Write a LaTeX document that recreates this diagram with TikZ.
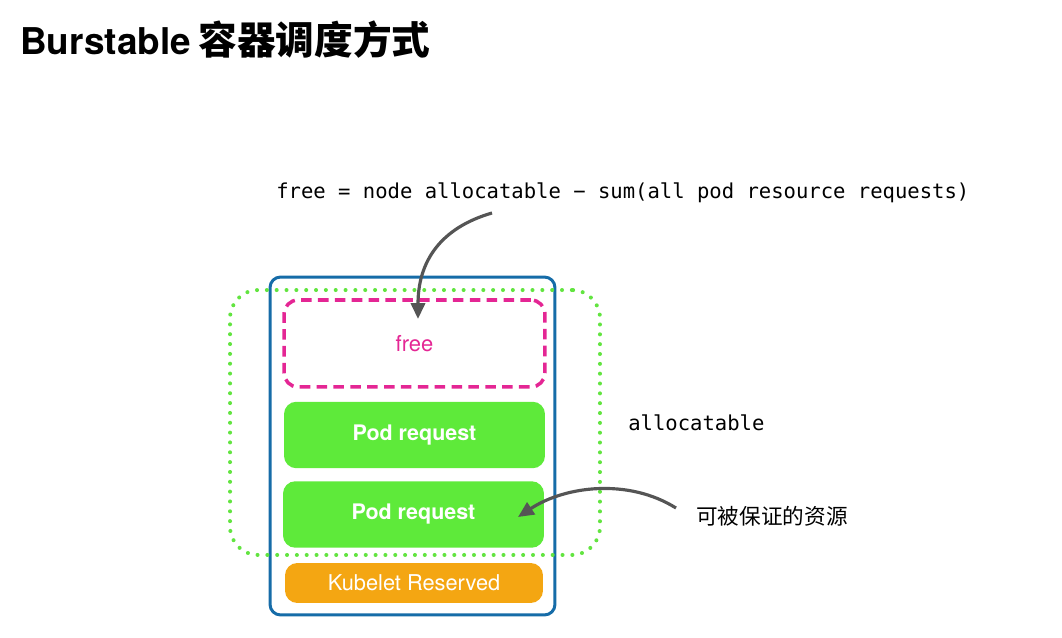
\documentclass[tikz,border=0pt]{standalone}
\usepackage{fontspec}
\setmainfont{TeX Gyre Heros}
\setmonofont{DejaVu Sans Mono}
\newfontfamily\cjk{Noto Sans CJK SC}
\usepackage{tikz}
\usetikzlibrary{arrows.meta,positioning}
\definecolor{boxblue}{RGB}{22,108,168}
\definecolor{podgreen}{RGB}{94,234,58}
\definecolor{dotgreen}{RGB}{98,228,64}
\definecolor{freepink}{RGB}{228,38,148}
\definecolor{kubeorange}{RGB}{244,166,18}
\definecolor{arrowgray}{RGB}{85,85,85}

\begin{document}
\begin{tikzpicture}[x=0.02cm,y=-0.02cm,
  podbox/.style={fill=podgreen,rounded corners=7pt,minimum width=5.22cm,
    minimum height=1.33cm,text=white,font=\fontsize{12.2}{14}\selectfont\bfseries},
  curvearrow/.style={-{Triangle[length=9pt,width=8pt]},line width=1.8pt,arrowgray},
  monolabel/.style={font=\fontsize{11.7}{14}\selectfont\ttfamily,inner sep=0pt}]
  \useasboundingbox (0,0) rectangle (1062,638);

  % --- title ------------------------------------------------------------
  \node[anchor=base west,inner sep=0pt,font=\fontsize{22}{26}\selectfont\bfseries]
    (title) at (20,55) {{\fontsize{21}{26}\selectfont Burstable}\hspace{0.2em}{\cjk 容器调度方式}};

  % --- formula ----------------------------------------------------------
  \node[monolabel,anchor=west] (formula) at (276,193)
    {free = node allocatable − sum(all pod resource requests)};

  % --- node frame and allocatable region --------------------------------
  \node[draw=boxblue,line width=1.7pt,rounded corners=6pt,
    minimum width=5.7cm,minimum height=6.76cm] (nodeframe) at (412.5,446) {};
  \node[draw=dotgreen,line width=2.3pt,line cap=round,dash pattern=on 0pt off 5.6pt,
    rounded corners=16pt,minimum width=7.4cm,minimum height=5.3cm]
    (allocframe) at (415,422.5) {};

  % free (pink, dashed)
  \node[draw=freepink,line width=2pt,dash pattern=on 6pt off 3.6pt,rounded corners=8pt,
    minimum width=5.22cm,minimum height=1.74cm,text=freepink,
    font=\fontsize{12.5}{14}\selectfont] (freebox) at (414.5,343.5) {free};
  % pod requests (green)
  \node[podbox] (podA) at (414.5,435) {Pod request};
  \node[podbox] (podB) at (413.5,514.5) {Pod request};
  % kubelet reserved (orange)
  \node[fill=kubeorange,rounded corners=7pt,minimum width=5.16cm,minimum height=0.8cm,
    text=white,font=\fontsize{12.4}{14}\selectfont] (kubelet) at (414,583) {Kubelet Reserved};

  % --- labels -----------------------------------------------------------
  \node[monolabel,anchor=west] (alloc) at (628,423) {allocatable};
  \node[anchor=west,inner sep=0pt,font=\cjk\fontsize{12.3}{14}\selectfont]
    (guarantee) at (696,516) {可被保证的资源};

  % --- arrows -----------------------------------------------------------
  \coordinate (fstart) at (492,213);
  \coordinate (ftip) at (418,319);
  \draw[curvearrow] (fstart) .. controls (440,228) and (418,262) .. (ftip);
  \coordinate (gstart) at (676,508);
  \coordinate (gtip) at (518,517);
  \draw[curvearrow] (gstart) .. controls (628,478) and (565,486) .. (gtip);
\end{tikzpicture}
\end{document}
